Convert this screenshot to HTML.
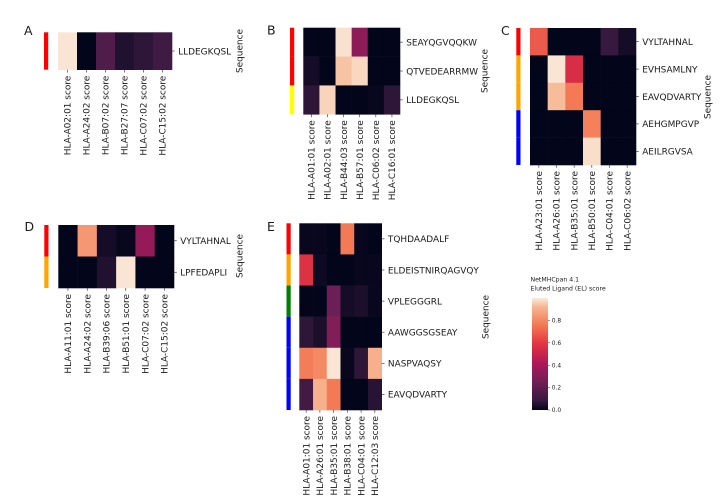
<!DOCTYPE html>
<html lang="en">
<head>
<meta charset="utf-8">
<title>NetMHCpan EL score heatmaps</title>
<style>
html,body{margin:0;padding:0;background:#fff;}
body{width:722px;height:504px;overflow:hidden;}
svg{display:block;filter:blur(0.3px);}
text{font-family:"DejaVu Sans","Liberation Sans",sans-serif;fill:#1a1a1a;}
</style>
</head>
<body>
<svg id="figure" xmlns="http://www.w3.org/2000/svg" width="722" height="504" viewBox="0 0 722 504">
<defs>
<linearGradient id="rocket-gradient" x1="0" y1="1" x2="0" y2="0"></linearGradient>
</defs>
</svg>
<script>
// Panel A
const panelAAlleles = ["HLA-A02:01 score","HLA-A24:02 score","HLA-B07:02 score","HLA-B27:07 score","HLA-C07:02 score","HLA-C15:02 score"];
const panelASequences = ["LLDEGKQSL"];
const panelAScores = [[0.99,0.0,0.16,0.05,0.07,0.11]];
const panelAGroups = ["red"];

// Panel B
const panelBAlleles = ["HLA-A01:01 score","HLA-A02:01 score","HLA-B44:03 score","HLA-B57:01 score","HLA-C06:02 score","HLA-C16:01 score"];
const panelBSequences = ["SEAYQGVQQKW","QTVEDEARRMW","LLDEGKQSL"];
const panelBScores = [
  [0.0,0.0,0.985,0.33,0.0,0.0],
  [0.03,0.0,0.94,0.97,0.0,0.0],
  [0.07,0.965,0.0,0.0,0.01,0.07]
];
const panelBGroups = ["red","red","yellow"];

// Panel C
const panelCAlleles = ["HLA-A23:01 score","HLA-A26:01 score","HLA-B35:01 score","HLA-B50:01 score","HLA-C04:01 score","HLA-C06:02 score"];
const panelCSequences = ["VYLTAHNAL","EVHSAMLNY","EAVQDVARTY","AEHGMPGVP","AEILRGVSA"];
const panelCScores = [
  [0.68,0.0,0.0,0.0,0.09,0.03],
  [0.0,0.99,0.55,0.0,0.0,0.0],
  [0.0,0.93,0.76,0.0,0.0,0.0],
  [0.0,0.0,0.0,0.78,0.0,0.0],
  [0.0,0.0,0.0,0.98,0.0,0.0]
];
const panelCGroups = ["red","orange","orange","blue","blue"];

// Panel D
const panelDAlleles = ["HLA-A11:01 score","HLA-A24:02 score","HLA-B39:06 score","HLA-B51:01 score","HLA-C07:02 score","HLA-C15:02 score"];
const panelDSequences = ["VYLTAHNAL","LPFEDAPLI"];
const panelDScores = [
  [0.0,0.84,0.03,0.01,0.35,0.0],
  [0.0,0.0,0.05,0.99,0.0,0.0]
];
const panelDGroups = ["red","orange"];

// Panel E
const panelEAlleles = ["HLA-A01:01 score","HLA-A26:01 score","HLA-B35:01 score","HLA-B38:01 score","HLA-C04:01 score","HLA-C12:03 score"];
const panelESequences = ["TQHDAADALF","ELDEISTNIRQAGVQY","VPLEGGGRL","AAWGGSGSEAY","NASPVAQSY","EAVQDVARTY"];
const panelEScores = [
  [0.01,0.01,0.0,0.76,0.01,0.0],
  [0.57,0.02,0.0,0.0,0.01,0.01],
  [0.0,0.0,0.24,0.03,0.04,0.01],
  [0.07,0.04,0.3,0.0,0.0,0.0],
  [0.77,0.8,0.99,0.01,0.07,0.91],
  [0.12,0.91,0.76,0.0,0.0,0.06]
];
const panelEGroups = ["red","orange","green","blue","blue","blue"];

// Colour scale
const colorbarTicks = [0.0,0.2,0.4,0.6,0.8];
const colorbarTitleLines = ["NetMHCpan 4.1","Eluted Ligand (EL) score"];
const rocketStops = [0,0.083,0.25,0.417,0.583,0.75,0.917,1];
const rocketColors = [[3,5,26],[53,25,62],[112,31,87],[173,23,89],[225,51,66],[243,118,81],[246,180,143],[250,235,221]];

const SVG_NS = "http://www.w3.org/2000/svg";
const figure = document.getElementById("figure");

function make(tag, attrs, parent){
  const node = document.createElementNS(SVG_NS, tag);
  for (const key in attrs) node.setAttribute(key, attrs[key]);
  (parent || figure).appendChild(node);
  return node;
}

function scoreColor(score){
  const v = Math.max(0, Math.min(1, score));
  let i = 0;
  while (i < rocketStops.length - 2 && v > rocketStops[i + 1]) i++;
  const t = (v - rocketStops[i]) / (rocketStops[i + 1] - rocketStops[i]);
  const c = rocketColors[i].map((a, k) => Math.round(a + (rocketColors[i + 1][k] - a) * t));
  return "rgb(" + c.join(",") + ")";
}

function drawPanel(frame, alleles, sequences, scores, groups){
  const g = make("g", {});
  
  

  const xScale = i => frame.left + (frame.right - frame.left) * i / alleles.length;
  const yScale = i => frame.top + (frame.bottom - frame.top) * i / sequences.length;

  const letter = make("text", {x: frame.letterX, y: frame.letterY, "font-size": 12.5}, g);
  letter.textContent = frame.letter;
  
  

  groups.forEach((group, r) => {
    const strip = make("rect", {x: frame.stripX, y: yScale(r), width: 4.2, height: yScale(r + 1) - yScale(r), fill: group}, g);
    
    
  });

  scores.forEach((row, r) => {
    row.forEach((score, c) => {
      const cell = make("rect", {x: xScale(c), y: yScale(r), width: xScale(c + 1) - xScale(c) + 0.3, height: yScale(r + 1) - yScale(r) + 0.3, fill: scoreColor(score)}, g);
      
      
    });
  });

  alleles.forEach((allele, c) => {
    const x = (xScale(c) + xScale(c + 1)) / 2;
    const tick = make("line", {x1: x, x2: x, y1: frame.bottom, y2: frame.bottom + 2.8, stroke: "#262626", "stroke-width": 0.6}, g);
    
    
    const label = make("text", {transform: "translate(" + (x + 3.2) + "," + (frame.bottom + 6) + ") rotate(-90)", "text-anchor": "end", "font-size": 8.95}, g);
    label.textContent = allele;
    
    
  });

  sequences.forEach((sequence, r) => {
    const y = (yScale(r) + yScale(r + 1)) / 2;
    const tick = make("line", {x1: frame.right, x2: frame.right + 2.8, y1: y, y2: y, stroke: "#262626", "stroke-width": 0.6}, g);
    
    
    const label = make("text", {x: frame.right + 6.2, y: y + 3.3, "font-size": 8.95}, g);
    label.textContent = sequence;
    
    
  });

  const title = make("text", {transform: "translate(" + frame.titleX + "," + frame.titleY + ") rotate(-90)", "text-anchor": "middle", "font-size": 8.95}, g);
  title.textContent = "Sequence";
  
  
}

function drawColorbar(frame){
  const g = make("g", {});
  
  

  const gradient = document.getElementById("rocket-gradient");
  rocketStops.forEach((stop, i) => {
    make("stop", {offset: stop * 100 + "%", "stop-color": "rgb(" + rocketColors[i].join(",") + ")"}, gradient);
  });

  const yScale = v => frame.bottom - (frame.bottom - frame.top) * v;

  const bar = make("rect", {x: frame.left, y: frame.top, width: frame.right - frame.left, height: frame.bottom - frame.top, fill: "url(#rocket-gradient)"}, g);
  
  

  colorbarTitleLines.forEach((line, i) => {
    const t = make("text", {x: frame.left - 1.5, y: 281.5 + i * 9.2, "font-size": 6.2}, g);
    t.textContent = line;
    
    
  });

  colorbarTicks.forEach(v => {
    const y = yScale(v);
    const tick = make("line", {x1: frame.right, x2: frame.right + 2, y1: y, y2: y, stroke: "#262626", "stroke-width": 0.5}, g);
    
    
    const label = make("text", {x: frame.right + 3.8, y: y + 2.1, "font-size": 5.9}, g);
    label.textContent = v.toFixed(1);
    
    
  });
}

drawPanel({letter:"A",letterX:24,letterY:35,stripX:44,left:58,right:172,top:32.3,bottom:69.7,titleX:242.3,titleY:51}, panelAAlleles, panelASequences, panelAScores, panelAGroups);
drawPanel({letter:"B",letterX:267,letterY:34.5,stripX:290,left:303.3,right:400,top:27.7,bottom:114.3,titleX:487.3,titleY:71}, panelBAlleles, panelBSequences, panelBScores, panelBGroups);
drawPanel({letter:"C",letterX:501,letterY:35,stripX:516.3,left:530,right:636,top:28,bottom:165,titleX:710.3,titleY:97}, panelCAlleles, panelCSequences, panelCScores, panelCGroups);
drawPanel({letter:"D",letterX:24.5,letterY:231,stripX:44.3,left:58.3,right:174,top:225,bottom:288,titleX:242.3,titleY:256}, panelDAlleles, panelDSequences, panelDScores, panelDGroups);
drawPanel({letter:"E",letterX:267,letterY:231,stripX:286.5,left:299.3,right:381.7,top:223.3,bottom:410,titleX:488.3,titleY:317}, panelEAlleles, panelESequences, panelEScores, panelEGroups);
drawColorbar({left:532,right:548,top:298,bottom:410});
</script>
</body>
</html>
